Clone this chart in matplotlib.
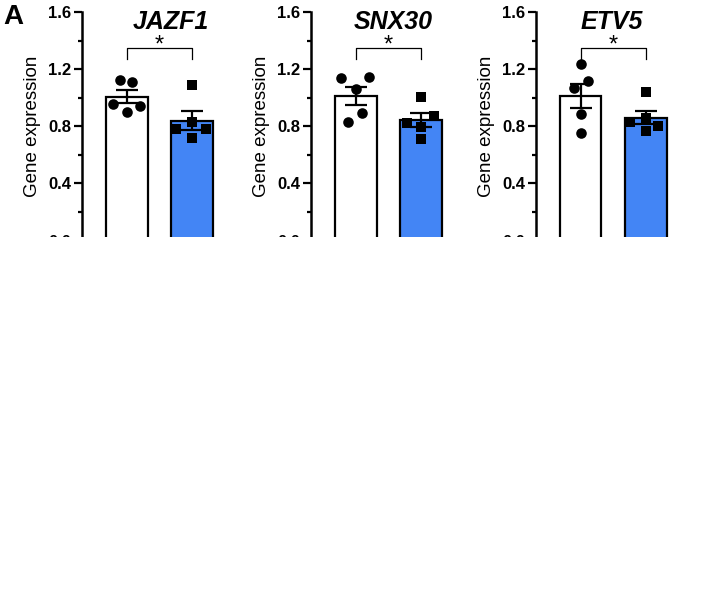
import numpy as np
import matplotlib
matplotlib.use("Agg")
import matplotlib.pyplot as plt
from matplotlib.patches import Rectangle

plt.rcParams["font.family"] = ["Liberation Sans", "DejaVu Sans"]

# values
genes = ["JAZF1", "SNX30", "ETV5"]
control = [
    [1.124, 1.112, 0.954, 0.902, 0.942],
    [1.136, 1.147, 1.061, 0.891, 0.832],
    [1.234, 1.117, 1.070, 0.884, 0.750],
]
treated = [
    [1.089, 0.832, 0.781, 0.781, 0.718],
    [1.007, 0.820, 0.874, 0.797, 0.711],
    [1.042, 0.832, 0.802, 0.767, 0.860],
]
yticks = [0.0, 0.4, 0.8, 1.2, 1.6]
ylabel = "Gene expression"
star = "*"

# layout only
ctrl_jitter = [
    [-0.10, 0.09, -0.20, 0.0, 0.21],
    [-0.22, 0.21, 0.0, 0.10, -0.11],
    [0.0, 0.11, -0.10, 0.0, 0.0],
]
trt_jitter = [
    [0.0, 0.0, -0.24, 0.21, 0.0],
    [0.0, -0.22, 0.20, 0.0, 0.0],
    [0.0, -0.24, 0.19, 0.0, 0.0],
]
title_x = [0.67, 0.58, 0.47]
axis_left_px = [82, 311, 536]

W, H = 706, 599
BLUE = "#4385f5"

fig = plt.figure(figsize=(W / 100, H / 100), dpi=100)

x_lo, x_hi = -0.68, 1.5
unit_px = 65.5
ax_w = (x_hi - x_lo) * unit_px / W
ax_bottom = (H - 240.6) / H
ax_h = (240.6 - 12) / H


def sem(v):
    v = np.asarray(v)
    return v.std(ddof=1) / np.sqrt(len(v))


for i, gene in enumerate(genes):
    ax = fig.add_axes([axis_left_px[i] / W, ax_bottom, ax_w, ax_h])
    c = np.asarray(control[i])
    t = np.asarray(treated[i])
    means = [c.mean(), t.mean()]
    errs = [sem(c), sem(t)]

    ax.bar([0, 1], means, width=0.64, color=["white", BLUE],
           edgecolor="black", linewidth=1.6, zorder=1)
    ax.errorbar([0, 1], means, yerr=errs, fmt="none", ecolor="black",
                elinewidth=1.6, capsize=8, capthick=1.6, zorder=2)
    ax.scatter(np.array(ctrl_jitter[i]), c, s=58, marker="o",
               color="black", zorder=3, linewidths=0)
    ax.scatter(1 + np.array(trt_jitter[i]), t, s=42, marker="s",
               color="black", zorder=3, linewidths=0)

    # significance bracket
    ax.plot([0, 0, 1, 1], [1.27, 1.345, 1.345, 1.27], color="black",
            linewidth=0.9, clip_on=False)
    ax.text(0.5, 1.325, star, ha="center", va="baseline", fontsize=17)

    ax.text(title_x[i], 1.483, gene, ha="center", va="baseline",
            fontsize=18, fontweight="bold", fontstyle="italic")

    ax.set_xlim(x_lo, x_hi)
    ax.set_ylim(0, 1.6)
    ax.set_yticks(yticks)
    ax.set_yticklabels([f"{v:.1f}" for v in yticks], fontweight="bold",
                       fontsize=12)
    ax.set_yticks(np.arange(0.2, 1.6, 0.4), minor=True)
    ax.tick_params(axis="y", which="major", length=6, width=1.6, pad=2)
    ax.tick_params(axis="y", which="minor", length=3, width=1.6)
    ax.set_xticks([])
    for side in ("top", "right", "bottom"):
        ax.spines[side].set_visible(False)
    ax.spines["left"].set_linewidth(1.8)
    ax.set_ylabel(ylabel, fontsize=13.5)
    ax.yaxis.set_label_coords(-41 / (ax_w * W), 0.5)

fig.text(13 / W, 1 - 17 / H, "A", ha="center", va="center",
         fontsize=20, fontweight="bold")

# the source image is cut off just above the baseline
cover = Rectangle((0, 0), 1, (H - 237) / H, transform=fig.transFigure,
                  facecolor="white", edgecolor="none", zorder=10)
fig.add_artist(cover)

fig.savefig("out.png", dpi=100)
